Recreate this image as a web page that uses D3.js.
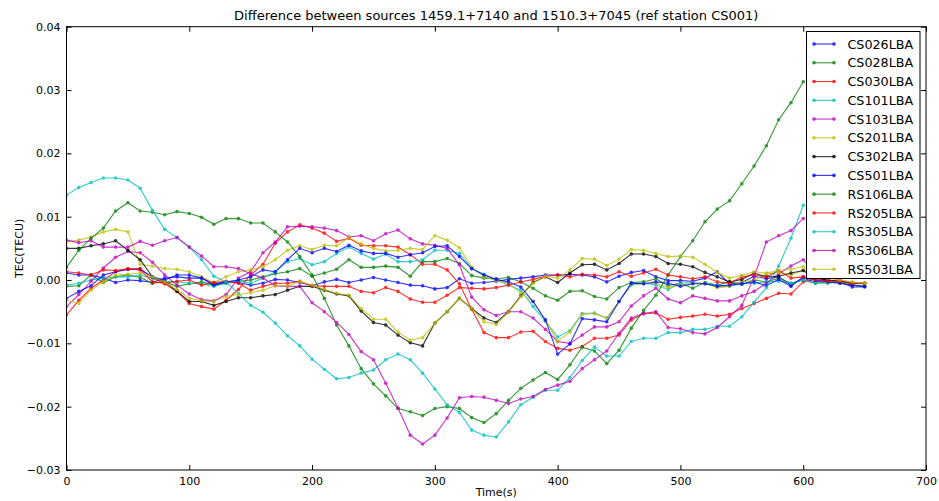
<!DOCTYPE html>
<html><head><meta charset="utf-8">
<script src="https://cdn.jsdelivr.net/npm/d3@7"></script>
<style>body{margin:0;background:#fff} text{font-family:"DejaVu Sans",sans-serif}</style>
</head><body><svg id="c" width="939" height="501"></svg>
<script>
// time (s)
const times = [0,10,20,30,40,50,60,70,80,90,100,110,120,130,140,150,160,170,180,190,200,210,220,230,240,250,260,270,280,290,300,310,320,330,340,350,360,370,380,390,400,410,420,430,440,450,460,470,480,490,500,510,520,530,540,550,560,570,580,590,600,610,620,630,640,650];
// values in units of 1e-3 TECU
const CS026 = [1.1,0.8,0.8,0.3,-0.4,0.0,-0.1,-0.4,0.3,0.5, 0.3,0.3,-0.6,-0.3,-0.4,-0.8,-0.5,0.1,0.0,-0.4, -0.9,-0.3,0.1,-0.4,0.0,0.4,0.0,-0.4,-0.8,-0.9, -1.4,-1.2,0.2,-0.5,-0.4,-0.2,0.1,0.3,0.5,0.8, 0.8,0.9,0.8,0.5,-0.3,0.6,1.2,1.5,0.5,-0.1, -0.1,-0.2,0.3,1.3,-0.6,-0.4,0.6,0.2,0.5,-0.8, 0.3,-0.3,0.0,-0.3,-1.1,-1.1];
const CS028 = [-1.0,-0.9,0.8,-0.4,0.5,0.8,0.4,-0.5,-0.3,-1.0, -0.6,-0.3,-0.8,-0.5,-0.2,0.0,0.5,1.0,1.3,1.8, 0.6,1.1,1.7,3.2,2.0,2.0,2.2,2.0,0.6,2.9, 2.9,3.4,2.6,0.7,0.3,0.2,0.4,-0.3,-1.3,-2.5, -3.2,-1.8,-1.7,-2.6,-3.0,-1.2,-0.4,-0.3,0.2,-0.9, -0.5,-1.3,-0.4,-0.8,-0.3,-0.7,0.0,-0.3,0.3,-0.5, 0.0,-0.5,-0.3,-0.5,-0.8,-1.0];
const CS030 = [-5.5,-3.2,-1.3,0.0,1.3,1.7,1.8,0.3,-0.6,-1.8, -3.7,-4.2,-4.6,-3.2,-1.5,0.8,2.5,5.8,7.6,8.7, 8.2,7.4,6.1,6.6,5.5,5.4,5.4,5.2,4.0,2.5, 2.5,1.6,-0.6,-4.6,-8.3,-9.1,-9.1,-8.2,-8.1,-9.7, -10.8,-11.1,-10.5,-9.2,-9.2,-8.7,-6.3,-5.3,-5.2,-6.2, -5.9,-5.7,-5.4,-5.7,-5.4,-4.5,-3.7,-2.9,-2.1,-2.2, -0.3,0.2,0.0,-0.3,-0.5,-0.6];
const CS101 = [-0.8,-0.5,0.0,0.3,0.5,0.5,0.8,0.3,-0.2,-0.3, -0.5,-0.6,-1.0,-0.5,-0.1,-0.5,0.3,1.3,2.9,3.4, 2.4,2.9,4.2,5.2,4.2,3.3,4.1,2.9,2.9,3.2, 4.7,4.7,4.2,1.8,0.9,0.0,-0.8,-1.6,-4.2,-6.5, -9.0,-8.0,-5.3,-5.2,-6.0,-3.4,-0.8,-0.5,-0.8,-1.5, -0.5,-0.4,-0.6,-0.8,-1.0,-0.6,-0.5,-0.3,-0.2,-0.5, 0.0,-0.5,-0.5,-0.3,-0.5,-0.6];
const CS103 = [-4.2,-2.3,-0.2,1.9,3.6,4.5,4.3,2.8,0.8,-0.8, -2.2,-3.1,-3.3,-2.3,0.3,1.3,4.3,6.0,8.4,8.5, 8.4,8.2,7.8,6.8,7.0,6.2,7.3,7.9,6.5,5.7, 5.5,5.0,2.4,-2.7,-4.7,-5.6,-5.0,-5.0,-6.0,-7.8, -9.7,-10.0,-8.7,-7.4,-7.4,-6.6,-4.1,-2.5,-1.3,-3.0, -3.6,-2.5,-2.9,-3.3,-3.3,-2.5,-1.8,-0.5,1.0,2.2, 3.2,1.0,0.5,0.0,-0.5,-0.5];
const CS201 = [6.0,6.3,6.8,7.6,8.0,7.6,2.5,2.2,1.8,1.7, 1.3,0.5,-0.4,0.5,1.3,1.6,2.1,3.2,4.7,5.4, 4.8,5.5,5.4,6.7,5.7,5.0,4.6,4.7,5.0,4.8, 7.0,6.3,5.1,2.0,0.5,-0.1,-0.5,-2.1,-3.4,-6.3, -9.7,-8.2,-5.4,-5.3,-6.0,-3.4,-0.6,-0.6,-0.5,-1.2, -0.8,-0.5,-0.5,-1.2,-1.0,-0.3,0.0,1.0,1.2,0.8, 1.5,0.5,0.0,-0.3,-0.5,-0.5];
const CS302 = [5.0,5.0,5.4,5.7,6.2,4.7,3.2,0.5,-0.3,-1.8, -3.4,-3.4,-4.0,-3.4,-2.8,-2.8,-2.5,-2.3,-1.6,-1.0, -1.0,-1.6,-2.2,-2.5,-4.9,-6.7,-7.1,-8.7,-9.9,-10.4, -6.8,-5.0,-2.9,-4.5,-6.0,-6.7,-5.0,-2.5,-0.4,0.5, -0.4,1.1,2.4,2.5,1.6,2.6,4.1,4.1,3.7,2.6, 2.5,2.1,1.2,0.5,-0.3,0.1,1.1,0.5,0.6,1.1, 1.5,0.3,0.0,-0.2,-0.5,-0.5];
const CS501 = [-2.9,-1.8,-0.9,0.8,1.3,1.7,1.7,0.5,0.0,0.8, 0.8,0.3,-0.8,-0.3,0.0,0.5,1.6,1.3,3.2,5.0, 4.3,5.0,4.5,5.5,4.6,4.2,4.2,3.6,4.0,4.3, 5.3,5.4,3.7,1.8,0.8,0.1,-0.3,-1.1,-3.4,-6.3, -11.7,-10.1,-6.1,-6.3,-6.6,-3.4,-0.5,-0.6,-0.3,-0.5, -1.0,-0.6,-0.6,-1.0,-0.8,-0.6,-0.3,-0.9,0.1,-1.0, 0.5,0.0,-0.3,-0.5,-0.8,-1.0];
const RS106 = [2.0,4.7,6.6,8.2,10.9,12.2,10.9,10.7,10.3,10.8, 10.5,9.9,8.8,9.7,9.7,9.0,9.0,7.6,6.0,3.7, 0.8,-2.9,-7.1,-10.4,-14.0,-16.4,-18.3,-20.3,-20.8,-21.4, -20.3,-20.0,-20.3,-21.7,-22.5,-21.1,-19.0,-17.1,-15.8,-14.6, -15.7,-13.4,-10.6,-11.2,-13.2,-11.1,-7.6,-4.8,-2.4,0.8, 3.7,6.2,9.2,11.2,12.5,15.2,18.0,21.2,25.3,28.0, 31.3];
const RS205 = [1.3,1.1,0.8,1.6,1.5,1.8,1.6,-0.3,-0.5,-0.2, 0.0,-0.8,-0.4,-0.2,-0.5,-1.6,-1.0,-0.5,-0.5,-0.2, -0.9,-1.0,-1.0,-1.0,-1.8,-2.0,-1.2,-1.8,-3.0,-3.5, -3.5,-2.4,-1.2,-1.3,-1.4,-1.2,-0.8,-0.3,0.1,0.6, 0.8,0.5,0.9,0.8,0.5,1.3,0.6,1.1,1.7,0.8, 0.5,0.2,0.5,-0.3,-0.5,0.5,0.8,0.5,1.5,0.3, 0.5,0.0,-0.2,-0.2,-0.5,-0.5];
const RS305 = [13.4,14.6,15.4,16.1,16.1,15.8,14.5,11.0,8.0,6.7, 5.2,3.2,0.6,-0.3,-2.1,-4.0,-5.1,-6.8,-8.8,-10.4, -12.5,-14.1,-15.6,-15.4,-14.7,-14.2,-12.6,-11.7,-12.6,-14.7, -17.2,-19.7,-20.9,-23.7,-24.5,-24.8,-22.4,-19.7,-18.5,-17.4, -17.4,-15.4,-12.7,-10.6,-12.0,-12.0,-9.7,-9.2,-9.2,-8.3, -8.3,-7.8,-7.8,-7.3,-7.3,-5.8,-3.5,-1.2,2.2,6.6, 11.8];
const RS306 = [6.3,5.9,6.2,5.2,5.2,5.2,6.1,5.5,6.2,6.7, 5.2,3.8,2.1,2.1,1.8,1.0,0.3,-0.9,-1.0,-1.0, -3.6,-5.0,-6.7,-8.6,-11.3,-12.6,-16.3,-20.2,-24.5,-25.9, -24.5,-21.8,-18.6,-18.4,-18.5,-19.0,-19.5,-18.8,-18.4,-17.3, -16.6,-16.0,-14.0,-12.6,-11.2,-8.4,-6.0,-5.3,-5.0,-7.5, -7.7,-8.3,-8.5,-7.5,-5.8,-4.0,0.5,6.0,7.0,7.8, 9.7];
const RS503 = [-3.2,-3.7,-1.6,-0.3,0.8,0.9,1.1,0.5,-0.3,-1.5, -2.9,-3.3,-3.4,-2.6,-2.3,-2.0,-1.6,-0.9,-0.9,-0.3, -0.8,-1.5,-2.1,-2.4,-4.5,-6.2,-6.2,-8.2,-9.5,-9.1, -6.8,-5.0,-2.9,-4.5,-6.6,-7.0,-5.1,-2.6,-0.5,0.6, 0.3,1.6,3.4,3.3,2.3,3.3,4.8,4.7,4.2,3.7, 3.8,3.6,2.5,1.2,0.3,0.7,1.3,1.1,1.5,1.7, 2.1,1.0,0.3,0.0,-0.3,-0.5];
const UNIT = 1e-3;
const seriesNames = ["CS026LBA","CS028LBA","CS030LBA","CS101LBA","CS103LBA","CS201LBA","CS302LBA","CS501LBA","RS106LBA","RS205LBA","RS305LBA","RS306LBA","RS503LBA"];
const seriesValues = [CS026,CS028,CS030,CS101,CS103,CS201,CS302,CS501,RS106,RS205,RS305,RS306,RS503];
const palette = ["#0000ff","#008000","#ff0000","#00bfbf","#bf00bf","#bfbf00","#000000"];
const xTicks = [0,100,200,300,400,500,600,700];
const yTicks = [-0.03,-0.02,-0.01,0,0.01,0.02,0.03,0.04];
const titleText = "Difference between sources 1459.1+7140 and 1510.3+7045 (ref station CS001)";

const svg = d3.select("#c");
const L=66.5, R=926, T=26.7, B=470;
const x = d3.scaleLinear().domain([0,700]).range([L,R]);
const y = d3.scaleLinear().domain([-0.03,0.04]).range([B,T]);

const line = d3.line().x(d=>x(d[0])).y(d=>y(d[1]));
const plot = svg.append("g");
plot.append("clipPath").attr("id","clip").append("rect").attr("x",L).attr("y",T).attr("width",R-L).attr("height",B-T);
const g = plot.append("g").attr("clip-path","url(#clip)");
seriesValues.forEach((vals,i)=>{
  const pts = vals.map((v,j)=>[times[j], v*UNIT]);
  const col = palette[i%palette.length];
  const s = g.append("g").attr("opacity",0.8);
  s.append("path").attr("d",line(pts)).attr("fill","none").attr("stroke",col).attr("stroke-width",1.1);
  s.selectAll("circle").data(pts).join("circle").attr("cx",d=>x(d[0])).attr("cy",d=>y(d[1])).attr("r",1.8).attr("fill",col);
});

// axes (ticks inside, on all four sides)
const fmt = d3.format(".2f");
const ax = svg.append("g").attr("transform",`translate(0,${B})`).call(d3.axisBottom(x).tickValues(xTicks).tickSizeInner(-5).tickSizeOuter(0).tickPadding(7).tickFormat(d3.format("d")));
const axT = svg.append("g").attr("transform",`translate(0,${T})`).call(d3.axisTop(x).tickValues(xTicks).tickSizeInner(-5).tickSizeOuter(0).tickFormat(""));
const ay = svg.append("g").attr("transform",`translate(${L},0)`).call(d3.axisLeft(y).tickValues(yTicks).tickSizeInner(-5).tickSizeOuter(0).tickPadding(6).tickFormat(fmt));
const ayR = svg.append("g").attr("transform",`translate(${R},0)`).call(d3.axisRight(y).tickValues(yTicks).tickSizeInner(-5).tickSizeOuter(0).tickFormat(""));
[ax,axT,ay,ayR].forEach(a=>{a.select(".domain").remove(); a.selectAll("text").attr("font-size",11).attr("font-family","DejaVu Sans").attr("fill","#000"); a.selectAll("line").attr("stroke","#000");});
svg.append("rect").attr("x",L).attr("y",T).attr("width",R-L).attr("height",B-T).attr("fill","none").attr("stroke","#000").attr("stroke-width",1);

svg.append("text").attr("x",(L+R)/2).attr("y",19.5).attr("text-anchor","middle").attr("font-size",13).text(titleText);
svg.append("text").attr("x",(L+R)/2).attr("y",496).attr("text-anchor","middle").attr("font-size",11).text("Time(s)");
svg.append("text").attr("transform",`translate(23,${(T+B)/2}) rotate(-90)`).attr("text-anchor","middle").attr("font-size",11).text("TEC(TECU)");

// legend
const lg = svg.append("g");
lg.append("rect").attr("x",806.5).attr("y",31.5).attr("width",113.5).attr("height",247).attr("fill","#fff").attr("stroke","#000").attr("stroke-width",1);
seriesNames.forEach((n,i)=>{
  const yy = 44 + i*18.77;
  const col = palette[i%palette.length];
  const e = lg.append("g");
  e.append("line").attr("x1",814).attr("x2",834).attr("y1",yy).attr("y2",yy).attr("stroke",col).attr("stroke-width",1.1).attr("opacity",0.8);
  [814,834].forEach(cx=>e.append("circle").attr("cx",cx).attr("cy",yy).attr("r",1.8).attr("fill",col).attr("opacity",0.8));
  e.append("text").attr("x",847.5).attr("y",yy).attr("dy","0.36em").attr("font-size",12.7).text(n);
});
</script></body></html>
